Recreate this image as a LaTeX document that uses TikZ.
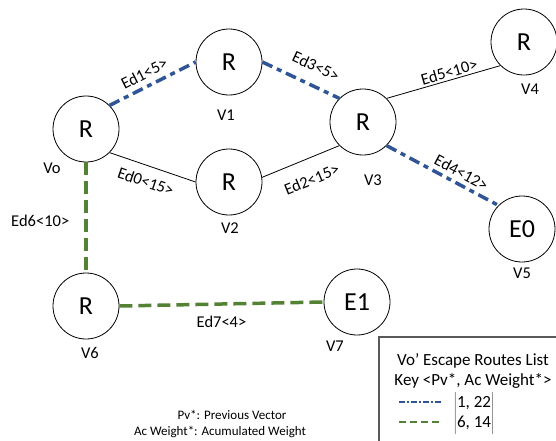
\documentclass[tikz,border=0pt]{standalone}
\usepackage{fontspec}
\setmainfont{Carlito}
\usetikzlibrary{arrows,automata,positioning}

\definecolor{routeblue}{RGB}{47,85,151}
\definecolor{routegreen}{RGB}{84,130,53}

\begin{document}
\begin{tikzpicture}[x=1pt,y=-1pt,semithick]
  \tikzstyle{every state}=[fill=none,draw=black,text=black,line width=0.8pt,minimum size=66pt,inner sep=0pt,font=\fontsize{26}{30}\selectfont]
  \tikzstyle{vname}=[font=\fontsize{16.5}{20}\selectfont]
  \tikzstyle{weight}=[font=\fontsize{16.5}{20}\selectfont,text=black]
  \tikzstyle{link}=[draw=black,line width=0.8pt]
  \tikzstyle{blueroute}=[draw=routeblue,line width=3.5pt,dash pattern=on 11pt off 5pt on 5pt off 5pt]
  \tikzstyle{greenroute}=[draw=routegreen,line width=3.5pt,dash pattern=on 13pt off 6pt]
  \tikzstyle{keytext}=[font=\fontsize{17}{20}\selectfont]
  \tikzstyle{note}=[font=\fontsize{13}{16}\selectfont,inner sep=1pt]

  \useasboundingbox (0,0) rectangle (556,440);

  \node[state] (v0) at (86,129)  {R};
  \node[state] (v1) at (229,62)  {R};
  \node[state] (v2) at (229,182) {R};
  \node[state] (v3) at (363,122) {R};
  \node[state] (v4) at (524,42)  {R};
  \node[state] (v5) at (522,229) {E0};
  \node[state] (v6) at (86,306)  {R};
  \node[state] (v7) at (357,302) {E1};

  \node[vname] (n0) at (52,168)  {Vo};
  \node[vname] (n1) at (226,115) {V1};
  \node[vname] (n2) at (230,228) {V2};
  \node[vname] (n3) at (373,180) {V3};
  \node[vname] (n4) at (530,89)  {V4};
  \node[vname] (n5) at (522,273) {V5};
  \node[vname] (n6) at (90,353)  {V6};
  \node[vname] (n7) at (335,346) {V7};

  \path
  (v0.45)   edge[blueroute]  node[weight,sloped,above,inner sep=5.5pt,pos=0.47] {Ed1<5>}  (v1.west)
  (v1.east) edge[blueroute]  node[weight,sloped,above,inner sep=11.5pt,pos=0.59] {Ed3<5>}  (v3.135)
  (v3.45)   edge[link]       node[weight,sloped,above,inner sep=2pt,pos=0.57]   {Ed5<10>} (v4.225)
  (v3.-45)  edge[blueroute]  node[weight,sloped,above,inner sep=4pt,pos=0.62]   {Ed4<12>} (v5.135)
  (v0.-45)  edge[link]       node[weight,sloped,below,inner sep=9.5pt,pos=0.48] {Ed0<15>} (v2.west)
  (v2.8)    edge[link]       node[weight,sloped,below,inner sep=14.5pt,pos=0.54] {Ed2<15>} (v3.225)
  (v0.south) edge[greenroute] node[weight,left,inner sep=15pt,pos=0.53]       {Ed6<10>} (v6.north)
  (v6.east) edge[greenroute] node[weight,below,inner sep=10.5pt,pos=0.5]      {Ed7<4>}  (v7.west);

  % key box, runs off the lower right corner
  \node[draw=black!65,line width=1.5pt,anchor=north west,minimum width=200pt,minimum height=120pt] (keybox) at (378,336) {};
  \node[keytext,inner sep=1pt] (keytitle) at (473,361) {Vo’ Escape Routes List};
  \node[keytext,inner sep=1pt] (keyfmt)   at (473,381) {Key <Pv*, Ac Weight*>};
  \coordinate (kb1) at (399,402);
  \coordinate (kb2) at (441,402);
  \coordinate (kg1) at (399,422);
  \coordinate (kg2) at (441,422);
  \draw[routeblue,line width=1.5pt,dash pattern=on 6pt off 2pt on 2pt off 2pt] (kb1) -- (kb2);
  \draw[routegreen,line width=1.5pt,dash pattern=on 7pt off 4pt] (kg1) -- (kg2);
  \node[keytext,inner sep=0pt] (keyvals) at (474,413) {$\left|\begin{tabular}{@{}l@{}}1, 22\\6, 14\end{tabular}\right|$};

  \node[note] (note1) at (232,415) {Pv*: Previous Vector};
  \node[note] (note2) at (220,432) {Ac Weight*: Acumulated Weight};
\end{tikzpicture}
\end{document}
